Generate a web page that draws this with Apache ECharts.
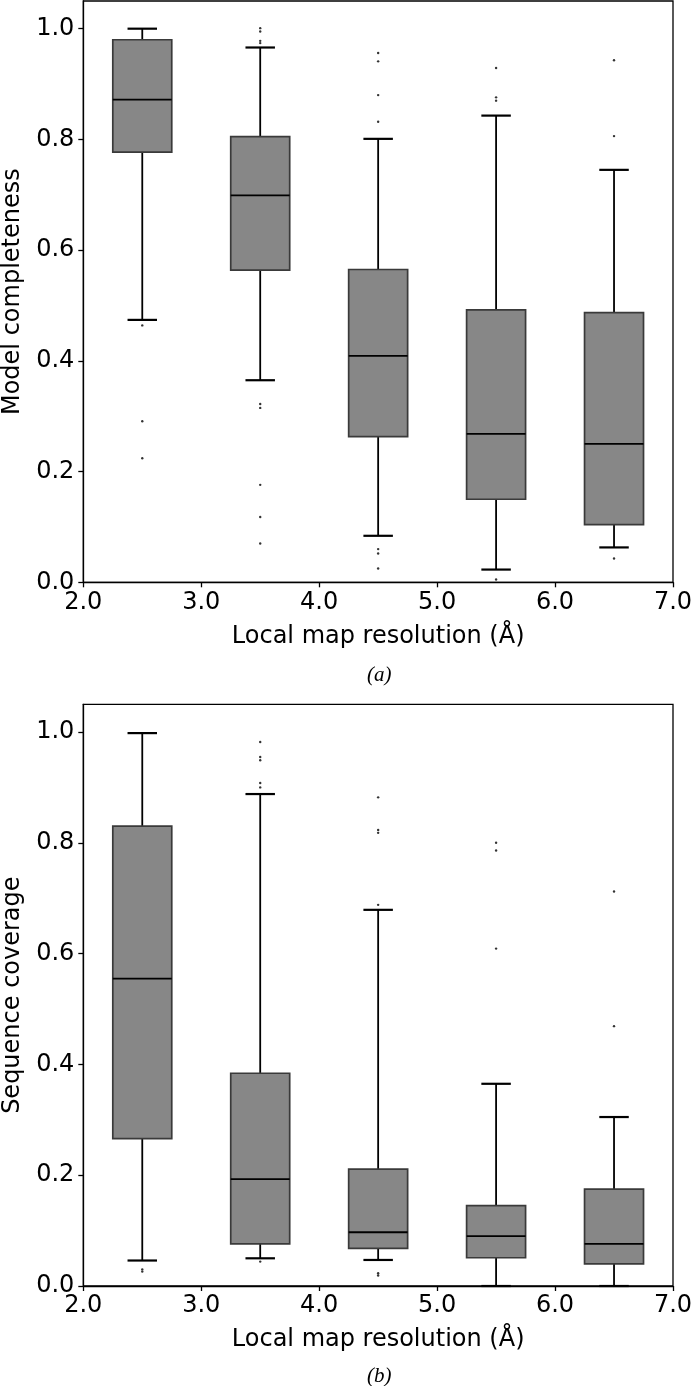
<!DOCTYPE html>
<html>
<head>
<meta charset="utf-8">
<script src="https://cdn.jsdelivr.net/npm/echarts@6/dist/echarts.min.js"></script>
<style>
html,body{margin:0;padding:0;background:#fff;}
#chart{width:692px;height:1386px;}
</style>
</head>
<body>
<div id="chart"></div>
<script>
// ---- data ----
const positions = [2.5, 3.5, 4.5, 5.5, 6.5];
const xTicks = [2, 3, 4, 5, 6, 7];
const yTicks = [0.0, 0.2, 0.4, 0.6, 0.8, 1.0];

// Panel (a): Model completeness
const aWhiskerLow  = [0.474, 0.365, 0.084, 0.023, 0.063];
const aQ1          = [0.777, 0.564, 0.263, 0.150, 0.104];
const aMedian      = [0.872, 0.699, 0.409, 0.268, 0.250];
const aQ3          = [0.980, 0.805, 0.565, 0.492, 0.487];
const aWhiskerHigh = [1.000, 0.966, 0.801, 0.843, 0.745];
const aOutliers = [
  [2.5, 0.464], [2.5, 0.291], [2.5, 0.224],
  [3.5, 1.001], [3.5, 0.995], [3.5, 0.978], [3.5, 0.974],
  [3.5, 0.322], [3.5, 0.315], [3.5, 0.176], [3.5, 0.118], [3.5, 0.070],
  [4.5, 0.956], [4.5, 0.941], [4.5, 0.880], [4.5, 0.832],
  [4.5, 0.060], [4.5, 0.052], [4.5, 0.025],
  [5.5, 0.929], [5.5, 0.876], [5.5, 0.870], [5.5, 0.005],
  [6.5, 0.943], [6.5, 0.806], [6.5, 0.043]
];

// Panel (b): Sequence coverage
const bWhiskerLow  = [0.046, 0.050, 0.047, 0.000, 0.000];
const bQ1          = [0.266, 0.076, 0.068, 0.051, 0.040];
const bMedian      = [0.555, 0.193, 0.097, 0.090, 0.076];
const bQ3          = [0.830, 0.384, 0.211, 0.145, 0.175];
const bWhiskerHigh = [0.998, 0.888, 0.679, 0.365, 0.305];
const bOutliers = [
  [2.5, 0.030], [2.5, 0.026],
  [3.5, 0.982], [3.5, 0.955], [3.5, 0.949], [3.5, 0.908], [3.5, 0.900], [3.5, 0.044],
  [4.5, 0.882], [4.5, 0.823], [4.5, 0.818], [4.5, 0.688], [4.5, 0.023], [4.5, 0.019],
  [5.5, 0.800], [5.5, 0.786], [5.5, 0.609],
  [6.5, 0.712], [6.5, 0.469]
];

const xName = 'Local map resolution (Å)';
const yNames = ['Model completeness', 'Sequence coverage'];
const captions = ['(a)', '(b)'];

// ---- build ----
function boxData(lo, q1, med, q3, hi) {
  return positions.map((p, i) => [p, lo[i], q1[i], med[i], q3[i], hi[i]]);
}

const BOX_HALF = 0.25;
const CAP_HALF = 0.125;
const FONT = 'DejaVu Sans';
const FS = 24;

function renderBox(params, api) {
  const x = api.value(0), lo = api.value(1), q1 = api.value(2), med = api.value(3), q3 = api.value(4), hi = api.value(5);
  const tl = api.coord([x - BOX_HALF, q3]);
  const br = api.coord([x + BOX_HALF, q1]);
  const cx = api.coord([x, 0])[0];
  const yLo = api.coord([x, lo])[1];
  const yHi = api.coord([x, hi])[1];
  const yMed = api.coord([x, med])[1];
  const capL = api.coord([x - CAP_HALF, 0])[0];
  const capR = api.coord([x + CAP_HALF, 0])[0];
  const wStyle = {stroke: '#000', lineWidth: 1.8, fill: null};
  const cStyle = {stroke: '#000', lineWidth: 2.2, fill: null};
  return {
    type: 'group',
    children: [
      {type: 'line', shape: {x1: cx, y1: tl[1], x2: cx, y2: yHi}, style: wStyle},
      {type: 'line', shape: {x1: cx, y1: br[1], x2: cx, y2: yLo}, style: wStyle},
      {type: 'line', shape: {x1: capL, y1: yHi, x2: capR, y2: yHi}, style: cStyle},
      {type: 'line', shape: {x1: capL, y1: yLo, x2: capR, y2: yLo}, style: cStyle},
      {type: 'rect', shape: {x: tl[0], y: tl[1], width: br[0] - tl[0], height: br[1] - tl[1]},
       style: {fill: '#878787', stroke: '#3a3a3a', lineWidth: 1.7}},
      {type: 'line', shape: {x1: tl[0], y1: yMed, x2: br[0], y2: yMed}, style: {stroke: '#000', lineWidth: 1.8}}
    ]
  };
}

const grids = [
  {left: 83.3, width: 589.7, top: 1, height: 581.3},
  {left: 83.3, width: 589.7, top: 704.3, height: 581.7}
];

const xAxes = [], yAxes = [], series = [];
const panels = [
  {box: boxData(aWhiskerLow, aQ1, aMedian, aQ3, aWhiskerHigh), out: aOutliers},
  {box: boxData(bWhiskerLow, bQ1, bMedian, bQ3, bWhiskerHigh), out: bOutliers}
];

panels.forEach((p, i) => {
  xAxes.push({
    type: 'value', gridIndex: i, min: 2, max: 7, interval: 1,
    name: xName, nameLocation: 'middle', nameGap: 42,
    nameTextStyle: {fontFamily: FONT, fontSize: FS, color: '#000'},
    axisLine: {show: true, lineStyle: {color: '#000', width: 1.3}},
    axisTick: {show: true, inside: false, length: 5, lineStyle: {color: '#000', width: 1.3}, customValues: xTicks},
    axisLabel: {show: true, margin: 8, fontFamily: FONT, fontSize: FS, color: '#000',
      customValues: xTicks, formatter: v => Number(v).toFixed(1)},
    splitLine: {show: false}
  });
  yAxes.push({
    type: 'value', gridIndex: i, min: 0, max: 1.05,
    name: yNames[i], nameLocation: 'middle', nameGap: 59,
    nameTextStyle: {fontFamily: FONT, fontSize: FS, color: '#000'},
    axisLine: {show: true, lineStyle: {color: '#000', width: 1.3}},
    axisTick: {show: true, inside: false, length: 5, lineStyle: {color: '#000', width: 1.3}, customValues: yTicks},
    axisLabel: {show: true, margin: 9, fontFamily: FONT, fontSize: FS, color: '#000',
      customValues: yTicks, formatter: v => Number(v).toFixed(1)},
    splitLine: {show: false}
  });
  series.push({
    type: 'custom', xAxisIndex: i, yAxisIndex: i, data: p.box, renderItem: renderBox,
    clip: false, silent: true, z: 2
  });
  series.push({
    type: 'scatter', xAxisIndex: i, yAxisIndex: i, data: p.out, symbol: 'circle', symbolSize: 2.4,
    itemStyle: {color: '#000'}, silent: true, z: 3
  });
});

const chart = echarts.init(document.getElementById('chart'), null, {renderer: 'canvas'});
chart.setOption({
  backgroundColor: '#fff',
  animation: false,
  grid: grids.map(g => Object.assign({show: true, containLabel: false, outerBoundsMode: 'none',
    borderColor: '#000', borderWidth: 1.3, backgroundColor: 'transparent'}, g)),
  xAxis: xAxes,
  yAxis: yAxes,
  series: series,
  graphic: [
    {type: 'text', left: 367, top: 665, style: {text: captions[0], font: 'italic 21px "Liberation Serif"', fill: '#000'}},
    {type: 'text', left: 367, top: 1366, style: {text: captions[1], font: 'italic 21px "Liberation Serif"', fill: '#000'}}
  ]
});
</script>
</body>
</html>
